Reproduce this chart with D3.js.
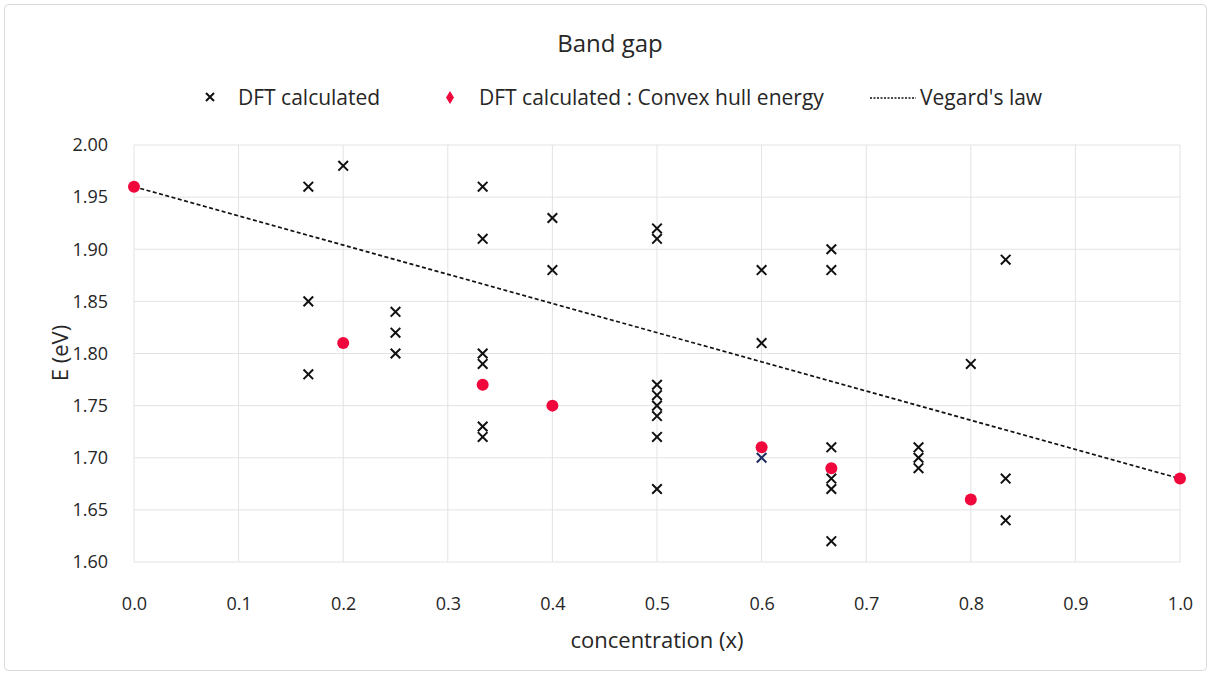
<!DOCTYPE html>
<html>
<head>
<meta charset="utf-8">
<script src="https://cdn.jsdelivr.net/npm/d3@7/dist/d3.min.js"></script>
<style>
  body { margin: 0; background: #fff; }
  text { font-family: "Open Sans", "Noto Sans", sans-serif; fill: #262626; }
</style>
</head>
<body>
<script>
// concentration (x) and band gap E (eV)
var dftX = [1/6, 1/6, 1/6, 0.2, 0.25, 0.25, 0.25,
  1/3, 1/3, 1/3, 1/3, 1/3, 1/3, 0.4, 0.4,
  0.5, 0.5, 0.5, 0.5, 0.5, 0.5, 0.5, 0.5,
  0.6, 0.6, 2/3, 2/3, 2/3, 2/3, 2/3, 2/3,
  0.75, 0.75, 0.75, 0.8, 5/6, 5/6, 5/6]
var dftE = [1.96, 1.85, 1.78, 1.98, 1.84, 1.82, 1.80,
  1.96, 1.91, 1.80, 1.79, 1.73, 1.72, 1.93, 1.88,
  1.92, 1.91, 1.77, 1.76, 1.75, 1.74, 1.72, 1.67,
  1.88, 1.81, 1.90, 1.88, 1.71, 1.68, 1.67, 1.62,
  1.71, 1.70, 1.69, 1.79, 1.89, 1.68, 1.64]
// the single dark blue cross under the hull point at x = 0.6
var dftBlueX = [0.6]
var dftBlueE = [1.70]
var hullX = [0, 0.2, 1/3, 0.4, 0.6, 2/3, 0.8, 1]
var hullE = [1.96, 1.81, 1.77, 1.75, 1.71, 1.69, 1.66, 1.68]
var vegardX = [0, 1]
var vegardE = [1.96, 1.68]
var xTicks = [0, 0.1, 0.2, 0.3, 0.4, 0.5, 0.6, 0.7, 0.8, 0.9, 1.0]
var yTicks = [1.60, 1.65, 1.70, 1.75, 1.80, 1.85, 1.90, 1.95, 2.00]
var legendLabels = ["DFT calculated", "DFT calculated : Convex hull energy", "Vegard's law"]

var W = 1211, H = 675
var plotL = 134, plotR = 1180, plotT = 145, plotB = 562

var svg = d3.select("body").append("svg").attr("width", W).attr("height", H)

svg.append("rect")
  .attr("x", 4.5).attr("y", 4.5).attr("width", W - 9).attr("height", H - 9)
  .attr("rx", 4).attr("fill", "#fff").attr("stroke", "#d9d9d9")

var x = d3.scaleLinear().domain([0, 1]).range([plotL, plotR])
var y = d3.scaleLinear().domain([1.6, 2.0]).range([plotB, plotT])

// gridlines
svg.append("g").selectAll("line").data(yTicks).enter().append("line")
  .attr("x1", plotL).attr("x2", plotR)
  .attr("y1", function(d) { return y(d) }).attr("y2", function(d) { return y(d) })
  .attr("stroke", "#e3e3e3").attr("stroke-width", 1)
svg.append("g").selectAll("line").data(xTicks).enter().append("line")
  .attr("y1", plotT).attr("y2", plotB)
  .attr("x1", function(d) { return x(d) }).attr("x2", function(d) { return x(d) })
  .attr("stroke", "#e3e3e3").attr("stroke-width", 1)

// axes, labels only
svg.append("g").attr("transform", "translate(" + (plotL - 23) + ",0)")
  .call(d3.axisLeft(y).tickValues(yTicks).tickFormat(d3.format(".2f")).tickSize(0))
svg.append("g").attr("transform", "translate(0," + (plotB + 32) + ")")
  .call(d3.axisBottom(x).tickValues(xTicks).tickFormat(d3.format(".1f")).tickSize(0))
svg.selectAll(".domain").remove()
svg.selectAll(".tick text").attr("font-size", "18px").attr("fill", "#404040")
  .attr("font-family", "'Open Sans', sans-serif")

// Vegard's law
svg.append("line")
  .attr("x1", x(vegardX[0])).attr("y1", y(vegardE[0]))
  .attr("x2", x(vegardX[1])).attr("y2", y(vegardE[1]))
  .attr("stroke", "#111").attr("stroke-width", 1.7).attr("stroke-dasharray", "4,2.5")

function cross(sel, cx, cy, r, color) {
  sel.append("path")
    .attr("d", "M" + (cx - r) + "," + (cy - r) + "L" + (cx + r) + "," + (cy + r) +
               "M" + (cx - r) + "," + (cy + r) + "L" + (cx + r) + "," + (cy - r))
    .attr("stroke", color).attr("stroke-width", 2).attr("fill", "none")
}

var pts = svg.append("g")
for (var i = 0 ; i < dftX.length ; i++) {
  cross(pts, x(dftX[i]), y(dftE[i]), 4.8, "#111")
}
for (var i = 0 ; i < dftBlueX.length ; i++) {
  cross(pts, x(dftBlueX[i]), y(dftBlueE[i]), 4.8, "#1f2a60")
}
pts.selectAll("circle").data(d3.range(hullX.length)).enter().append("circle")
  .attr("cx", function(i) { return x(hullX[i]) })
  .attr("cy", function(i) { return y(hullE[i]) })
  .attr("r", 6).attr("fill", "#f0073c")

// title
svg.append("text").attr("x", 610).attr("y", 52).attr("text-anchor", "middle")
  .attr("font-size", "24px").text("Band gap")

// axis titles
svg.append("text").attr("x", 657).attr("y", 648).attr("text-anchor", "middle")
  .attr("font-size", "22px").text("concentration (x)")
svg.append("text").attr("transform", "translate(68,353) rotate(-90)")
  .attr("text-anchor", "middle").attr("font-size", "22px").text("E (eV)")

// legend
var lg = svg.append("g")
cross(lg, 210, 97, 4, "#111")
lg.append("text").attr("x", 238).attr("y", 105).attr("font-size", "21px").text(legendLabels[0])
lg.append("path").attr("d", "M450,91L454,97.5L450,104L446,97.5Z").attr("fill", "#f0073c")
lg.append("text").attr("x", 479).attr("y", 105).attr("font-size", "21px").text(legendLabels[1])
lg.append("line").attr("x1", 870).attr("x2", 916).attr("y1", 98).attr("y2", 98)
  .attr("stroke", "#111").attr("stroke-width", 1.5).attr("stroke-dasharray", "2,1.5")
lg.append("text").attr("x", 920).attr("y", 105).attr("font-size", "21px").text(legendLabels[2])
</script>
</body>
</html>
